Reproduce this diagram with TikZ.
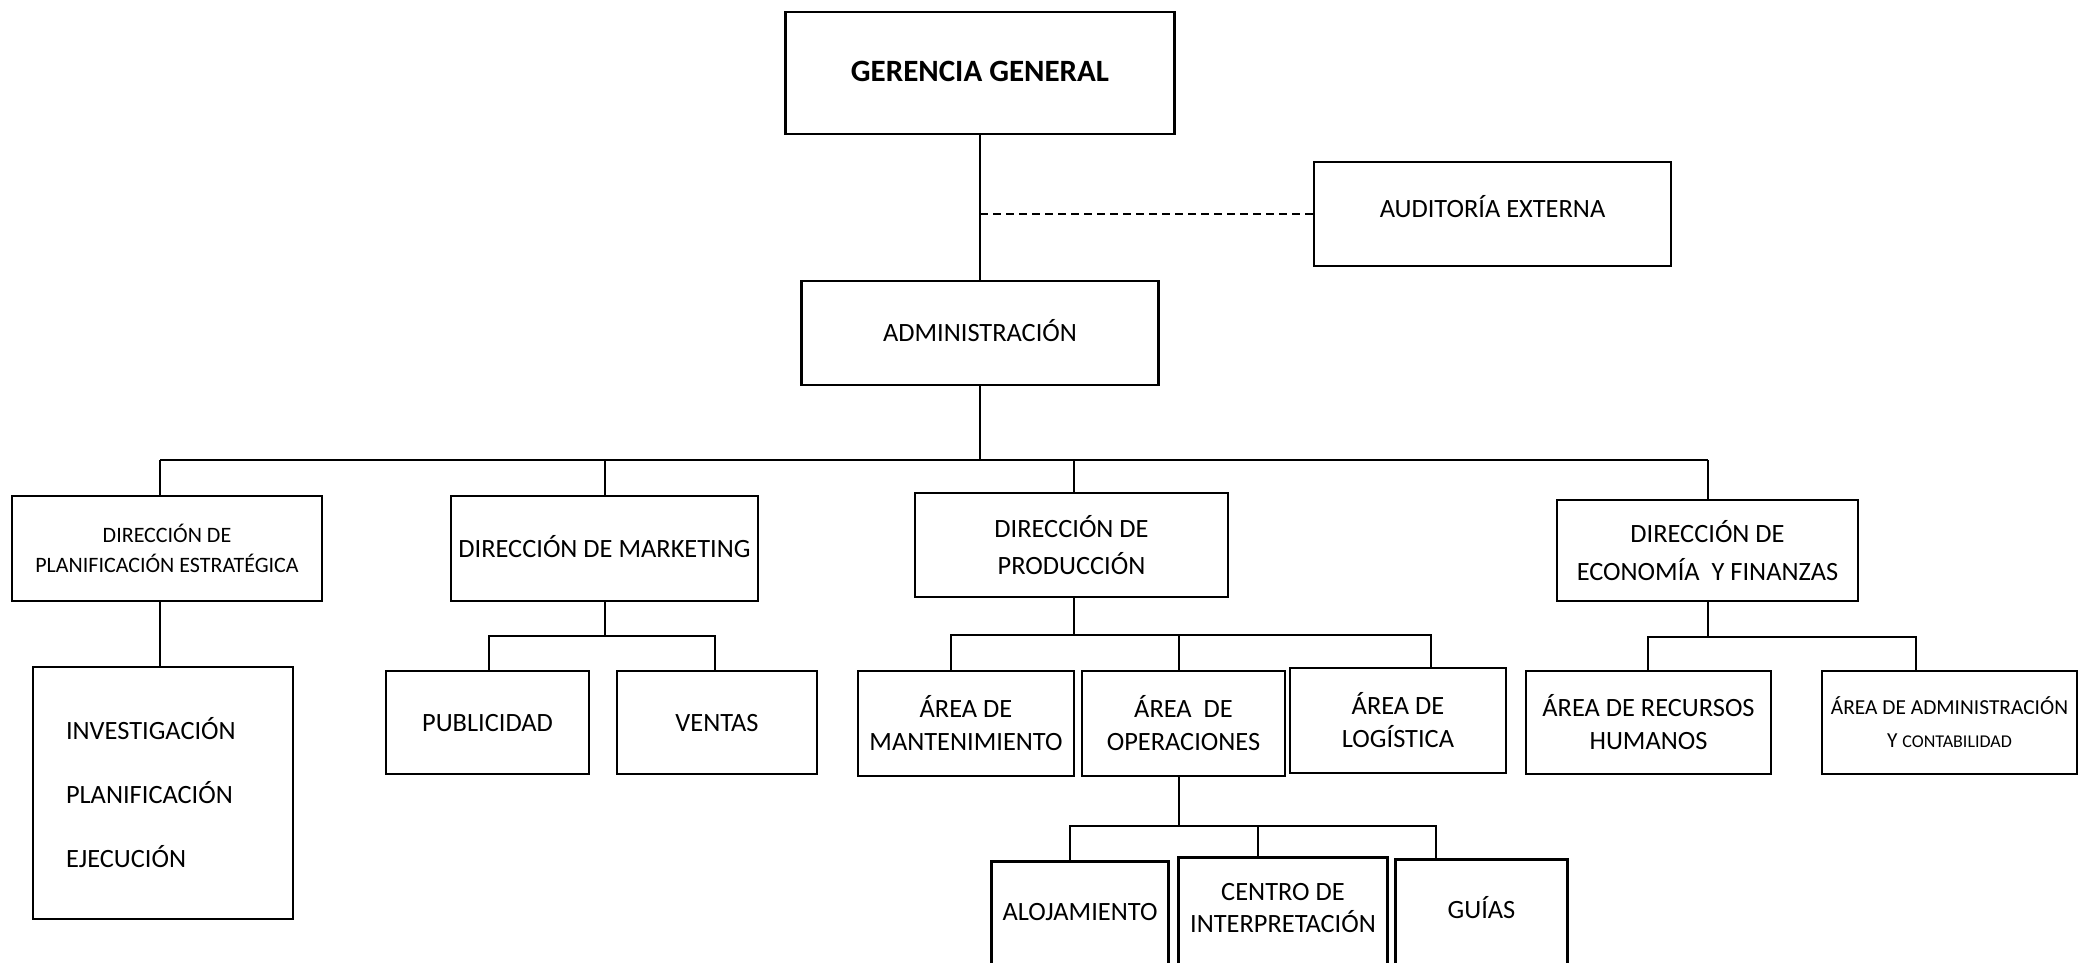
\documentclass[tikz,border=0pt]{standalone}
\usepackage{fontspec}
\setmainfont{Carlito}
\begin{document}
\begin{tikzpicture}[x=0.5pt,y=-0.5pt]
\tikzset{
  box/.style={draw, line width=1.3pt, align=center, inner sep=0pt, font=\fontsize{13.2}{17}\selectfont},
  openbox/.style={align=center, inner sep=0pt, font=\fontsize{13.2}{17}\selectfont},
  one/.style={text height=8.6pt, text depth=0pt},
  small/.style={font=\fontsize{11}{15}\selectfont},
  conn/.style={line width=1.2pt},
  frame/.style={line width=1.3pt},
}
\useasboundingbox (0,0) rectangle (2079,963);
% top
\node[box, one, font=\bfseries\fontsize{15.5}{18}\selectfont, minimum width=194.5pt, minimum height=61pt] (gg) at (980,73) {GERENCIA GENERAL};
\node[box, text height=8.6pt, text depth=5pt, minimum width=178.5pt, minimum height=52pt] (aud) at (1492.5,214) {AUDITORÍA EXTERNA};
\node[box, one, minimum width=178.5pt, minimum height=52pt] (adm) at (980,333) {ADMINISTRACIÓN};
% directions
\node[box, small, minimum width=155pt, minimum height=52.5pt] (pe) at (167,548.5) {DIRECCIÓN DE\\PLANIFICACIÓN ESTRATÉGICA};
\node[box, one, minimum width=153.5pt, minimum height=52.5pt] (mk) at (604.5,548.5) {DIRECCIÓN DE MARKETING};
\node[box, font=\fontsize{13.2}{18.5}\selectfont, minimum width=156.5pt, minimum height=52pt] (pr) at (1071.5,545) {DIRECCIÓN DE\\PRODUCCIÓN};
\node[box, font=\fontsize{13.2}{19}\selectfont, minimum width=150.5pt, minimum height=50.5pt] (ec) at (1707.5,550.5) {DIRECCIÓN DE\\ECONOMÍA~ Y FINANZAS};
% planificacion child
\node[box, minimum width=130pt, minimum height=126pt, text width=97pt, align=left] (inv) at (163,793) {INVESTIGACIÓN\\[15pt]PLANIFICACIÓN\\[15pt]EJECUCIÓN};
% marketing children
\node[box, one, minimum width=101.5pt, minimum height=51.5pt] (pub) at (487.5,722.5) {PUBLICIDAD};
\node[box, one, minimum width=100pt, minimum height=51.5pt] (ven) at (717,722.5) {VENTAS};
% produccion children
\node[box, font=\fontsize{13.2}{16.5}\selectfont, minimum width=108pt, minimum height=52.5pt] (man) at (966,723.5) {ÁREA DE\\MANTENIMIENTO};
\node[box, font=\fontsize{13.2}{16.5}\selectfont, minimum width=101.5pt, minimum height=52.5pt] (ope) at (1183.5,723.5) {ÁREA~ DE\\OPERACIONES};
\node[box, font=\fontsize{13.2}{16.5}\selectfont, minimum width=108pt, minimum height=52.5pt] (log) at (1398,720.5) {ÁREA DE\\LOGÍSTICA};
% operaciones children (cut at bottom)
\node[openbox, one, minimum width=88pt, minimum height=50pt] (alo) at (1080,912) {ALOJAMIENTO};
\node[openbox, font=\fontsize{13.2}{16}\selectfont, minimum width=104pt, minimum height=50pt] (cen) at (1283,908) {CENTRO DE\\INTERPRETACIÓN};
\node[openbox, one, minimum width=85.5pt, minimum height=50pt] (gui) at (1481.5,910) {GUÍAS};
\foreach \n in {alo,cen,gui}{
  \draw[frame] ([yshift=-20pt]\n.south west) -- (\n.north west) -- (\n.north east) -- ([yshift=-20pt]\n.south east);
}
% economia children
\node[box, font=\fontsize{13.2}{16.5}\selectfont, minimum width=122.5pt, minimum height=51.5pt] (rh) at (1648.5,722.5) {ÁREA DE RECURSOS\\HUMANOS};
\node[box, font=\fontsize{10.7}{16.5}\selectfont, minimum width=127.5pt, minimum height=51.5pt] (ac) at (1949.5,722.5) {ÁREA DE ADMINISTRACIÓN\\Y {\fontsize{9}{10}\selectfont CONTABILIDAD}};
% connectors top
\draw[conn] (gg.south) -- (adm.north);
\draw[conn, dash pattern=on 4pt off 2.5pt] (aud.west) -- (aud.west -| gg.south);
\coordinate (b0) at (980,460);
\coordinate (bpe) at (160,460);
\coordinate (bmk) at (605,460);
\coordinate (bpr) at (1074,460);
\coordinate (bec) at (1708,460);
\draw[conn] (adm.south) -- (b0);
\draw[conn] (bpe) -- (bec);
\foreach \c/\n in {bpe/pe,bmk/mk,bpr/pr,bec/ec}{
  \draw[conn] (\c) -- (\c |- \n.north);
}
% planificacion
\draw[conn] (bpe |- pe.south) -- (bpe |- inv.north);
% marketing
\coordinate (m0) at (605,636);
\coordinate (m1) at (489,636);
\coordinate (m2) at (715,636);
\draw[conn] (bmk |- mk.south) -- (m0);
\draw[conn] (m1 |- pub.north) -- (m1) -- (m2) -- (m2 |- ven.north);
% produccion
\coordinate (p0) at (1074,635);
\coordinate (p1) at (951,635);
\coordinate (p2) at (1179,635);
\coordinate (p3) at (1431,635);
\draw[conn] (bpr |- pr.south) -- (p0);
\draw[conn] (p1 |- man.north) -- (p1) -- (p3) -- (p3 |- log.north);
\draw[conn] (p2) -- (p2 |- ope.north);
% operaciones
\coordinate (o0) at (1179,826);
\coordinate (o1) at (1070,826);
\coordinate (o2) at (1258,826);
\coordinate (o3) at (1436,826);
\draw[conn] (o0 |- ope.south) -- (o0);
\draw[conn] (o1 |- alo.north) -- (o1) -- (o3) -- (o3 |- gui.north);
\draw[conn] (o2) -- (o2 |- cen.north);
% economia
\coordinate (e0) at (1708,637);
\coordinate (e1) at (1648,637);
\coordinate (e2) at (1916,637);
\draw[conn] (bec |- ec.south) -- (e0);
\draw[conn] (e1 |- rh.north) -- (e1) -- (e2) -- (e2 |- ac.north);
\end{tikzpicture}
\end{document}
